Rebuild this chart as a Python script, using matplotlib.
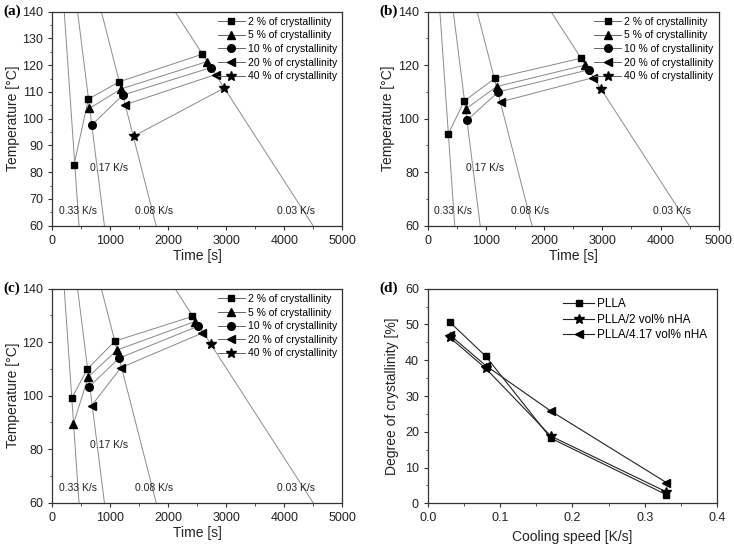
import matplotlib
matplotlib.use("Agg")
import matplotlib.pyplot as plt
from matplotlib.ticker import MultipleLocator

plt.rcParams['font.family'] = ['Liberation Sans', 'DejaVu Sans']

# cooling lines: time at 140 C and at 60 C
cool_labels = ["0.33 K/s", "0.17 K/s", "0.08 K/s", "0.03 K/s"]
cool_t_top = [205, 435, 845, 2115]
cool_t_bot = [460, 898, 1790, 4495]
cool_T = [140, 60]
# label positions (time, temperature)
lab_t = [434, 980, 1758, 4200]
lab_T = [65.6, 81.4, 65.6, 65.6]

series_names = ["2 % of crystallinity", "5 % of crystallinity", "10 % of crystallinity",
                "20 % of crystallinity", "40 % of crystallinity"]
markers = ['s', '^', 'o', '<', '*']
msizes = [5, 6, 5.5, 6, 7]

# panel (a)
a_t = [[374, 621, 1155, 2586], [637, 1184, 2661], [678, 1213, 2736], [1253, 2817], [1400, 2960]]
a_T = [[82.7, 107.3, 113.8, 124.1], [103.8, 111.1, 121.3], [97.6, 108.8, 119.1], [105.2, 116.5], [93.4, 111.4]]
# panel (b)
b_t = [[350, 625, 1153, 2632], [648, 1181, 2701], [676, 1209, 2770], [1256, 2834], [2976]]
b_T = [[94.3, 106.6, 115.1, 122.6], [103.6, 112.0, 120.0], [99.5, 110.0, 118.3], [106.3, 115.3], [110.9]]
# panel (c)
c_t = [[333, 603, 1080, 2413], [362, 621, 1121, 2460], [638, 1149, 2517], [678, 1184, 2575], [2736]]
c_T = [[99.0, 109.9, 120.4, 129.6], [89.3, 107.1, 117.1, 127.7], [103.4, 114.0, 126.0], [96.3, 110.5, 123.3], [119.2]]

# panel (d)
speed = [0.03, 0.08, 0.17, 0.33]
d_names = ["PLLA", "PLLA/2 vol% nHA", "PLLA/4.17 vol% nHA"]
d_markers = ['s', '*', '<']
d_msizes = [5, 7, 6]
d_vals = [[50.7, 41.1, 18.2, 2.4],
          [46.4, 37.7, 18.8, 3.2],
          [47.1, 38.5, 25.8, 5.8]]

fig = plt.figure(figsize=(7.34, 5.44), dpi=100)

ax_a = fig.add_axes([0.0713, 0.5852, 0.3951, 0.3934])
ax_b = fig.add_axes([0.5831, 0.5852, 0.3960, 0.3934])
ax_c = fig.add_axes([0.0713, 0.0760, 0.3951, 0.3934])
ax_d = fig.add_axes([0.5831, 0.0748, 0.3937, 0.3945])

spine_col = '#333333'


def style(ax):
    for s in ax.spines.values():
        s.set_color(spine_col)
        s.set_linewidth(0.9)
    ax.tick_params(direction='out', length=3, width=0.8, colors=spine_col,
                   labelsize=9, labelcolor='#222222')
    ax.tick_params(which='minor', direction='out', length=1.8, width=0.6, colors=spine_col)


def panel_label(ax, label):
    ax.text(-0.168, 1.0, label, transform=ax.transAxes, ha='left', va='center',
            fontsize=11, fontweight='bold', family=['Liberation Serif', 'DejaVu Serif'])


def temp_panel(ax, ts, Ts, label, ystep):
    for i in range(len(cool_labels)):
        ax.plot([cool_t_top[i], cool_t_bot[i]], cool_T, color='#8c8c8c', lw=0.7, zorder=1)
        ax.text(lab_t[i], lab_T[i], cool_labels[i], ha='center', va='center',
                fontsize=7.5, color='#222222')
    for k in range(len(series_names)):
        ax.plot(ts[k], Ts[k], marker=markers[k], color='#888888', lw=0.7,
                mfc='black', mec='black', ms=msizes[k], label=series_names[k], zorder=3)
    ax.set_xlim(0, 5000)
    ax.set_ylim(60, 140)
    ax.xaxis.set_major_locator(MultipleLocator(1000))
    ax.xaxis.set_minor_locator(MultipleLocator(500))
    ax.yaxis.set_major_locator(MultipleLocator(ystep))
    ax.yaxis.set_minor_locator(MultipleLocator(ystep / 2))
    ax.set_xlabel("Time [s]", fontsize=10, color='#222222', labelpad=2)
    ax.set_ylabel("Temperature [°C]", fontsize=10, color='#222222', labelpad=2)
    style(ax)
    leg = ax.legend(loc='upper right', frameon=False, fontsize=7.5, handlelength=2.6,
                    handletextpad=0.3, labelspacing=0.35, borderaxespad=0.3,
                    borderpad=0.2)
    for h in leg.get_lines():
        h.set_color('#666666')
    panel_label(ax, label)


temp_panel(ax_a, a_t, a_T, "(a)", 10)
temp_panel(ax_b, b_t, b_T, "(b)", 20)
temp_panel(ax_c, c_t, c_T, "(c)", 20)

for k in range(len(d_names)):
    ax_d.plot(speed, d_vals[k], marker=d_markers[k], color='#222222', lw=0.8,
              mfc='black', mec='black', ms=d_msizes[k], label=d_names[k])
ax_d.set_xlim(0, 0.4)
ax_d.set_ylim(0, 60)
ax_d.xaxis.set_major_locator(MultipleLocator(0.1))
ax_d.xaxis.set_minor_locator(MultipleLocator(0.05))
ax_d.yaxis.set_major_locator(MultipleLocator(10))
ax_d.yaxis.set_minor_locator(MultipleLocator(5))
ax_d.set_xticks([0.0, 0.1, 0.2, 0.3, 0.4])
ax_d.set_xticklabels(["0.0", "0.1", "0.2", "0.3", "0.4"])
ax_d.set_xlabel("Cooling speed [K/s]", fontsize=10, color='#222222', labelpad=4)
ax_d.set_ylabel("Degree of crystallinity [%]", fontsize=10, color='#222222', labelpad=4)
style(ax_d)
ax_d.legend(loc='upper right', frameon=False, fontsize=8.5, handlelength=2.6,
            handletextpad=0.3, labelspacing=0.3, borderaxespad=0.5, borderpad=0.3)
panel_label(ax_d, "(d)")

fig.savefig("out.png", dpi=100)
